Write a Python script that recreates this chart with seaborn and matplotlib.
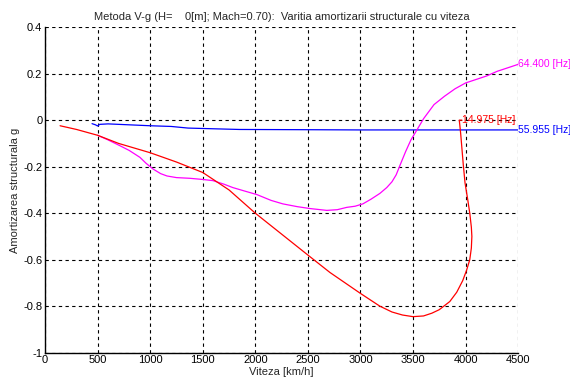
import matplotlib
matplotlib.use("Agg")
import matplotlib.pyplot as plt
import seaborn as sns
import pandas as pd

# ---- data ----
red_v = [143, 300, 500, 700, 1000, 1250, 1500, 1750, 2000, 2250, 2500, 2710, 3000,
         3185, 3300, 3400, 3500, 3600, 3680, 3750, 3850, 3916, 3973, 4010, 4040,
         4055, 4060, 4055, 4040, 4020, 3995, 3978, 3965, 3954, 3945, 3940, 3965]
red_g = [-0.024, -0.04, -0.065, -0.10, -0.14, -0.18, -0.225, -0.30, -0.40, -0.49,
         -0.58, -0.655, -0.745, -0.80, -0.825, -0.838, -0.845, -0.842, -0.83,
         -0.815, -0.78, -0.74, -0.69, -0.645, -0.60, -0.55, -0.50, -0.46, -0.40,
         -0.34, -0.27, -0.19, -0.12, -0.06, -0.02, 0.0, 0.0]

mag_v = [500, 600, 713, 800, 903, 960, 1027, 1100, 1160, 1250, 1378, 1500, 1597,
         1700, 1787, 1900, 2015, 2150, 2262, 2400, 2519, 2680, 2780, 2870, 2950,
         3023, 3100, 3185, 3250, 3300, 3340, 3380, 3430, 3480, 3540, 3600, 3700,
         3800, 3900, 4000, 4100, 4200, 4300, 4400, 4500]
mag_g = [-0.065, -0.085, -0.11, -0.13, -0.16, -0.185, -0.21, -0.23, -0.24, -0.247,
         -0.25, -0.255, -0.26, -0.275, -0.29, -0.305, -0.32, -0.345, -0.36, -0.372,
         -0.38, -0.388, -0.385, -0.375, -0.37, -0.36, -0.34, -0.315, -0.29, -0.265,
         -0.235, -0.19, -0.135, -0.085, -0.04, 0.006, 0.067, 0.103, 0.135, 0.16,
         0.175, 0.19, 0.21, 0.225, 0.24]

blue_v = [447, 480, 500, 520, 600, 800, 1000, 1200, 1360, 1600, 1850, 2500, 3000,
          3500, 4000, 4500]
blue_g = [-0.015, -0.02, -0.025, -0.018, -0.016, -0.02, -0.024, -0.027, -0.034,
          -0.037, -0.040, -0.041, -0.042, -0.042, -0.042, -0.042]

labels = {"red": "14.975 [Hz]", "magenta": "64.400 [Hz]", "blue": "55.955 [Hz]"}

x_ticks = [0, 500, 1000, 1500, 2000, 2500, 3000, 3500, 4000, 4500]
y_ticks = [-1, -0.8, -0.6, -0.4, -0.2, 0, 0.2, 0.4]
y_tick_labels = ["-1", "-0.8", "-0.6", "-0.4", "-0.2", "0", "0.2", "0.4"]

title = "Metoda V-g (H=    0[m]; Mach=0.70):  Varitia amortizarii structurale cu viteza"
xlabel = "Viteza [km/h]"
ylabel = "Amortizarea structurala g"

# ---- plot ----
sns.set_style("white")
plt.rcParams["font.family"] = ["Liberation Sans", "DejaVu Sans"]

fig = plt.figure(figsize=(5.7, 3.88), dpi=100)
ax = fig.add_axes([0.079, 0.091, 0.830, 0.839])

series = [("blue", blue_v, blue_g, "#0000ff"),
          ("magenta", mag_v, mag_g, "#ff00ff"),
          ("red", red_v, red_g, "#ff0000")]

for name, v, g, col in series:
    df = pd.DataFrame({"v": v, "g": g})
    sns.lineplot(data=df, x="v", y="g", sort=False, estimator=None,
                 color=col, linewidth=0.9, ax=ax)

# end labels
ax.text(blue_v[-1], blue_g[-1], labels["blue"], color="#0000ff", fontsize=7.5,
        ha="left", va="center")
ax.text(mag_v[-1], mag_g[-1], labels["magenta"], color="#ff00ff", fontsize=7.5,
        ha="left", va="center")
ax.text(red_v[-1], red_g[-1], labels["red"], color="#ff0000", fontsize=7.5,
        ha="left", va="center")

ax.set_xlim(0, 4500)
ax.set_ylim(-1, 0.4)
ax.set_xticks(x_ticks)
ax.set_xticklabels([str(t) for t in x_ticks])
ax.set_yticks(y_ticks)
ax.set_yticklabels(y_tick_labels)
ax.tick_params(direction="in", length=3, width=0.8, labelsize=8, colors="black", pad=2)

ax.grid(True, color="black", linestyle=(0, (3, 3)), linewidth=0.8)
for s in ["top", "right"]:
    ax.spines[s].set_visible(False)
for s in ["left", "bottom"]:
    ax.spines[s].set_color("black")
    ax.spines[s].set_linewidth(1.0)
ax.set_axisbelow(True)

ax.set_xlabel(xlabel, fontsize=8, labelpad=1)
ax.set_ylabel(ylabel, fontsize=8, labelpad=2)
ax.set_title(title, fontsize=8, pad=5)

fig.savefig("out.png", dpi=100)
